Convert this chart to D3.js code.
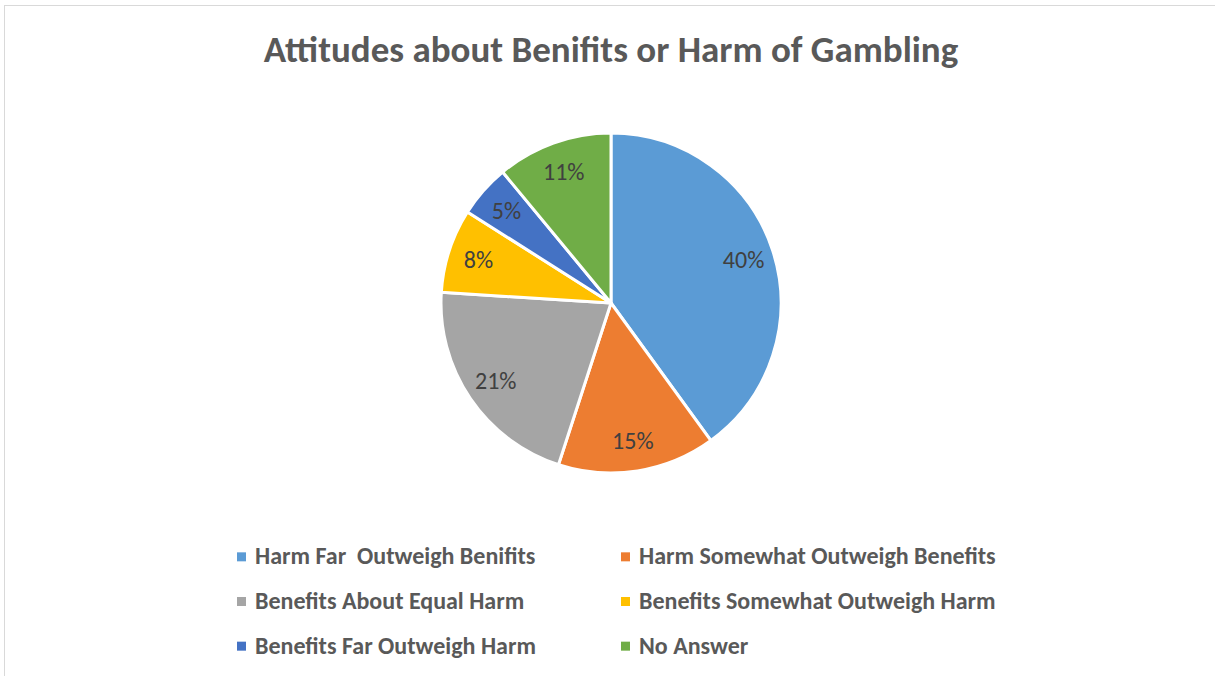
<!DOCTYPE html>
<html lang="en">
 <head>
 <meta http-equiv="Content-Type" content="text/html; charset=UTF-8">
        <title>Attitudes about Benifits or Harm of Gambling</title>
        <script type="text/javascript" src="https://cdn.jsdelivr.net/npm/d3@7/dist/d3.min.js"></script>
       <style type="text/css">
         body { margin: 0; background: white; }
         text { font-family: Carlito, "Open Sans", sans-serif; }
       </style>
    </head>
    <body>
        <script type="text/javascript">

          // chart data
          var categories = [ "Harm Far  Outweigh Benifits", "Harm Somewhat Outweigh Benefits",
                             "Benefits About Equal Harm", "Benefits Somewhat Outweigh Harm",
                             "Benefits Far Outweigh Harm", "No Answer" ];
          var shares = [ 40, 15, 21, 8, 5, 11 ];
          var sliceColors = [ "#5B9BD5", "#ED7D31", "#A5A5A5", "#FFC000", "#4472C4", "#70AD47" ];

          var ancho = 1215;
          var alto = 676;
          var centroX = 611;
          var centroY = 303;
          var radio = 170;

          var svg = d3.select("body")
                      .append("svg")
                      .attr("width", ancho)
                      .attr("height", alto);

          // chart area border (only top/left visible in the picture)
          svg.append("rect")
             .attr("x", 4.5).attr("y", 5.5)
             .attr("width", ancho).attr("height", alto)
             .attr("fill", "white")
             .attr("stroke", "#d9d9d9");

          svg.append("text")
             .attr("x", 611)
             .attr("y", 62)
             .attr("text-anchor", "middle")
             .attr("font-size", 37)
             .attr("font-weight", 700)
             .attr("fill", "#595959")
             .text("Attitudes about Benifits or Harm of Gambling");

          var color = d3.scaleOrdinal().domain(categories).range(sliceColors);

          var pie = d3.pie().sort(null).value(function(d) { return d.value; });
          var datos = categories.map(function(c, i) { return { name: c, value: shares[i] }; });
          var arcos = pie(datos);

          var arco = d3.arc().innerRadius(0).outerRadius(radio);
          var arcoLabel = d3.arc().innerRadius(radio * 0.82).outerRadius(radio * 0.82);

          var g = svg.append("g")
                     .attr("transform", "translate(" + centroX + "," + centroY + ")");

          g.selectAll("path")
           .data(arcos)
           .enter()
           .append("path")
           .attr("d", arco)
           .attr("fill", function(d) { return color(d.data.name); })
           .attr("stroke", "white")
           .attr("stroke-width", 3)
           .attr("stroke-linejoin", "round");

          g.selectAll("text.pct")
           .data(arcos)
           .enter()
           .append("text")
           .attr("class", "pct")
           .attr("transform", function(d) { return "translate(" + arcoLabel.centroid(d) + ")"; })
           .attr("text-anchor", "middle")
           .attr("dy", "0.33em")
           .attr("font-size", 24)
           .attr("fill", "#404040")
           .text(function(d) { return d.data.value + "%"; });

          // legend, two columns x three rows
          var legX = d3.scaleOrdinal().domain([0, 1]).range([237, 621]);
          var legY = d3.scaleBand().domain([0, 1, 2]).range([534, 668]);

          var leg = svg.selectAll("g.leg")
                       .data(categories)
                       .enter()
                       .append("g")
                       .attr("class", "leg")
                       .attr("transform", function(d, i) {
                         return "translate(" + legX(i % 2) + "," + (legY(Math.floor(i / 2)) + legY.bandwidth() / 2) + ")";
                       });

          leg.append("rect")
             .attr("x", 0).attr("y", -4)
             .attr("width", 9).attr("height", 9)
             .attr("fill", function(d) { return color(d); });

          leg.append("text")
             .attr("x", 18)
             .attr("y", 8)
             .attr("font-size", 24)
             .attr("font-weight", 700)
             .attr("fill", "#595959")
             .style("white-space", "pre")
             .text(function(d) { return d; });

        </script>
    </body>
</html>
